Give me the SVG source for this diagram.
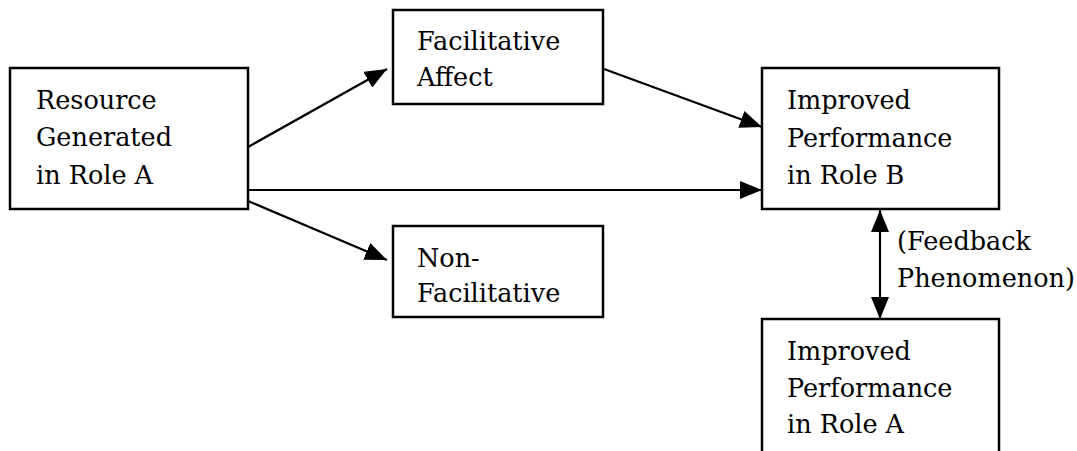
<svg xmlns="http://www.w3.org/2000/svg" width="1077" height="451" viewBox="0 0 1077 451">
<style>
.box{fill:#fff;stroke:#000;stroke-width:2.5}
.t{font-family:'DejaVu Serif','Liberation Serif',serif;font-size:25.5px;fill:#000}
.c{stroke:#000;stroke-width:2.2;fill:none}
</style>
<defs>
<marker id="ah" markerUnits="userSpaceOnUse" markerWidth="24" markerHeight="18" refX="22" refY="9" orient="auto-start-reverse">
<path d="M0,0 L22,9 L0,18 Z" fill="#000"/>
</marker>
</defs>
<rect width="1077" height="451" fill="#fff"/>
<g id="connectors">
<line class="c" x1="248" y1="147" x2="387" y2="69" marker-end="url(#ah)"/>
<line class="c" x1="604" y1="69" x2="762" y2="127" marker-end="url(#ah)"/>
<line class="c" x1="248" y1="190" x2="762" y2="190" marker-end="url(#ah)"/>
<line class="c" x1="248" y1="201" x2="387" y2="260" marker-end="url(#ah)"/>
<line class="c" x1="880" y1="210" x2="880" y2="319" marker-start="url(#ah)" marker-end="url(#ah)"/>
</g>
<g id="node-resource">
<rect class="box" x="10" y="68" width="238" height="141"/>
<text class="t" x="36" y="109">Resource</text>
<text class="t" x="36" y="146">Generated</text>
<text class="t" x="36" y="184">in Role A</text>
</g>
<g id="node-facilitative">
<rect class="box" x="393" y="10" width="210" height="94"/>
<text class="t" x="417" y="50">Facilitative</text>
<text class="t" x="417" y="86">Affect</text>
</g>
<g id="node-nonfacilitative">
<rect class="box" x="393" y="226" width="210" height="91"/>
<text class="t" x="417" y="267">Non-</text>
<text class="t" x="417" y="302">Facilitative</text>
</g>
<g id="node-roleB">
<rect class="box" x="762" y="68" width="237" height="141"/>
<text class="t" x="787" y="109">Improved</text>
<text class="t" x="787" y="147">Performance</text>
<text class="t" x="787" y="184">in Role B</text>
</g>
<g id="node-roleA">
<rect class="box" x="762" y="319" width="237" height="140"/>
<text class="t" x="787" y="360">Improved</text>
<text class="t" x="787" y="397">Performance</text>
<text class="t" x="787" y="433">in Role A</text>
</g>
<g id="label-feedback">
<text class="t" x="897" y="250">(Feedback</text>
<text class="t" x="897" y="287">Phenomenon)</text>
</g>
</svg>
